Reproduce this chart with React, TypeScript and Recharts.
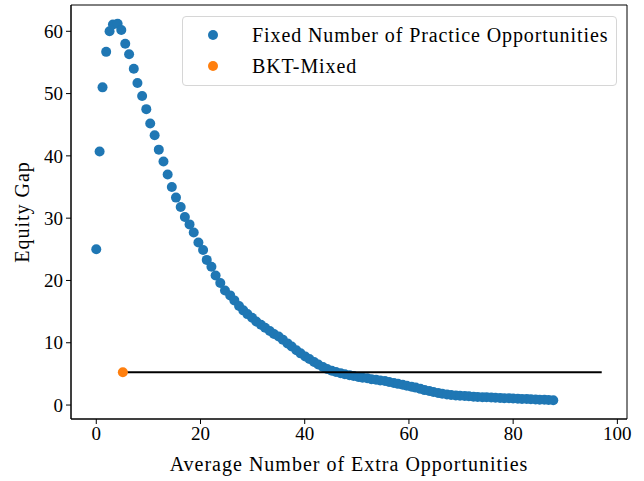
import React from 'react';
import { ScatterChart, Scatter, XAxis, YAxis, ReferenceArea, Label } from 'recharts';

// Fixed number of practice opportunities
const fixedX = [
  0, 0.64, 1.2, 1.9, 2.55, 3.2, 4.1, 4.8, 5.56, 6.3, 7.2, 7.9, 8.8, 9.6, 10.35, 11.2, 12.0,
  12.9, 13.7, 14.5, 15.3, 16.2, 17.0, 17.9, 18.7, 19.6, 20.5, 21.2, 22.1, 22.9, 23.8, 24.7,
  25.7, 26.5, 27.4, 28.2, 29.0, 29.9, 30.7, 31.6, 32.4, 33.3, 34.1, 35.0, 35.8, 36.7, 37.5,
  38.4, 39.2, 40.1, 40.9, 41.8, 42.6, 43.5, 44.3, 45.2, 46.0, 46.9, 47.7, 48.6, 49.4, 50.3,
  51.1, 52.0, 52.8, 53.7, 54.5, 55.4, 56.2, 57.1, 57.9, 58.8, 59.6, 60.5, 61.3, 62.2, 63.0,
  63.9, 64.7, 65.6, 66.4, 67.3, 68.1, 69.0, 69.8, 70.7, 71.5, 72.4, 73.2, 74.1, 74.9, 75.8,
  76.6, 77.5, 78.3, 79.2, 80.0, 80.9, 81.7, 82.6, 83.4, 84.3, 85.1, 86.0, 86.8, 87.7,
];
const fixedY = [
  25.0, 40.7, 51.0, 56.7, 60.0, 61.1, 61.2, 60.2, 58.0, 56.3, 54.0, 51.7, 49.6, 47.5, 45.2, 43.3, 41.0,
  39.1, 37.0, 35.0, 33.3, 31.8, 30.2, 29.0, 27.7, 26.1, 24.9, 23.3, 22.2, 20.8, 19.6, 18.4,
  17.6, 16.8, 15.9, 15.2, 14.6, 14.0, 13.4, 12.9, 12.4, 11.9, 11.4, 11.0, 10.5, 9.9, 9.4,
  8.8, 8.3, 7.8, 7.4, 6.9, 6.5, 6.1, 5.8, 5.5, 5.3, 5.1, 4.95, 4.8, 4.65, 4.5,
  4.4, 4.3, 4.15, 4.05, 3.95, 3.85, 3.7, 3.55, 3.4, 3.25, 3.1, 2.95, 2.8, 2.6, 2.4,
  2.25, 2.1, 1.95, 1.8, 1.7, 1.6, 1.55, 1.5, 1.45, 1.4, 1.35, 1.3, 1.27, 1.24, 1.2,
  1.17, 1.14, 1.11, 1.08, 1.05, 1.02, 0.99, 0.96, 0.93, 0.9, 0.87, 0.84, 0.81, 0.78,
];

// BKT-Mixed
const bktX = [5.1];
const bktY = [5.27];
const bktLineEndX = 97;

const X_TICKS = [0, 20, 40, 60, 80, 100];
const Y_TICKS = [0, 10, 20, 30, 40, 50, 60];
const X_DOMAIN = [-4.85, 101.85];
const Y_DOMAIN = [-2.24, 64.22];

const BLUE = '#1f77b4';
const ORANGE = '#ff7f0e';
const FONT = '"Liberation Serif", "DejaVu Serif", serif';

const fixedData = fixedX.map((x, i) => ({ x, y: fixedY[i] }));
const bktData = bktX.map((x, i) => ({ x, y: bktY[i] }));
const lineData = [
  { x: bktX[0], y: bktY[0] },
  { x: bktLineEndX, y: bktY[0] },
];

const dot = (color: string) => (props: any) => (
  <circle cx={props.cx} cy={props.cy} r={5} fill={color} />
);

const tickStyle = { fontSize: 19, fill: '#000', fontFamily: FONT };
const labelStyle = { fontSize: 20, fill: '#000', fontFamily: FONT, letterSpacing: 1 };

const App: React.FC = () => {
  return (
    <div style={{ position: 'absolute', left: 0, top: 0, width: 644, height: 481, background: '#fff' }}>
      <ScatterChart width={644} height={481} margin={{ top: 5, right: 17, bottom: 0, left: 0 }}>
        <XAxis
          type="number"
          dataKey="x"
          domain={X_DOMAIN}
          ticks={X_TICKS}
          interval={0}
          allowDataOverflow
          height={62}
          tick={tickStyle}
          tickSize={5}
          tickMargin={3}
          stroke="#000"
        >
          <Label
            value="Average Number of Extra Opportunities"
            position="insideBottom"
            offset={10}
            style={labelStyle}
          />
        </XAxis>
        <YAxis
          type="number"
          dataKey="y"
          domain={Y_DOMAIN}
          ticks={Y_TICKS}
          interval={0}
          allowDataOverflow
          width={71}
          tick={tickStyle}
          tickSize={5}
          tickMargin={3}
          stroke="#000"
        >
          <Label
            value="Equity Gap"
            angle={-90}
            position="insideLeft"
            offset={22}
            style={{ ...labelStyle, textAnchor: 'middle' }}
          />
        </YAxis>
        <ReferenceArea
          x1={X_DOMAIN[0]}
          x2={X_DOMAIN[1]}
          y1={Y_DOMAIN[0]}
          y2={Y_DOMAIN[1]}
          fill="none"
          stroke="#000"
          strokeWidth={1}
          ifOverflow="visible"
        />
        <Scatter data={fixedData} fill={BLUE} shape={dot(BLUE)} isAnimationActive={false} />
        <Scatter
          data={lineData}
          line={{ stroke: '#000', strokeWidth: 2 }}
          shape={() => <g />}
          isAnimationActive={false}
        />
        <Scatter data={bktData} fill={ORANGE} shape={dot(ORANGE)} isAnimationActive={false} />
      </ScatterChart>
      <div
        style={{
          position: 'absolute',
          left: 182,
          top: 16,
          width: 433,
          height: 68,
          border: '1px solid #d6d6d6',
          borderRadius: 4,
          background: 'rgba(255,255,255,0.8)',
          fontFamily: FONT,
          fontSize: 20,
          letterSpacing: 0.9,
          color: '#000',
        }}
      >
        {[
          { name: 'Fixed Number of Practice Opportunities', color: BLUE },
          { name: 'BKT-Mixed', color: ORANGE },
        ].map((item, i) => (
          <div
            key={item.name}
            style={{ position: 'absolute', left: 0, top: 6 + i * 31, height: 24, display: 'flex', alignItems: 'center' }}
          >
            <span
              style={{
                position: 'absolute',
                left: 25,
                width: 10,
                height: 10,
                borderRadius: '50%',
                background: item.color,
              }}
            />
            <span style={{ position: 'absolute', left: 69, whiteSpace: 'nowrap', lineHeight: '24px' }}>{item.name}</span>
          </div>
        ))}
      </div>
    </div>
  );
};

export default App;
